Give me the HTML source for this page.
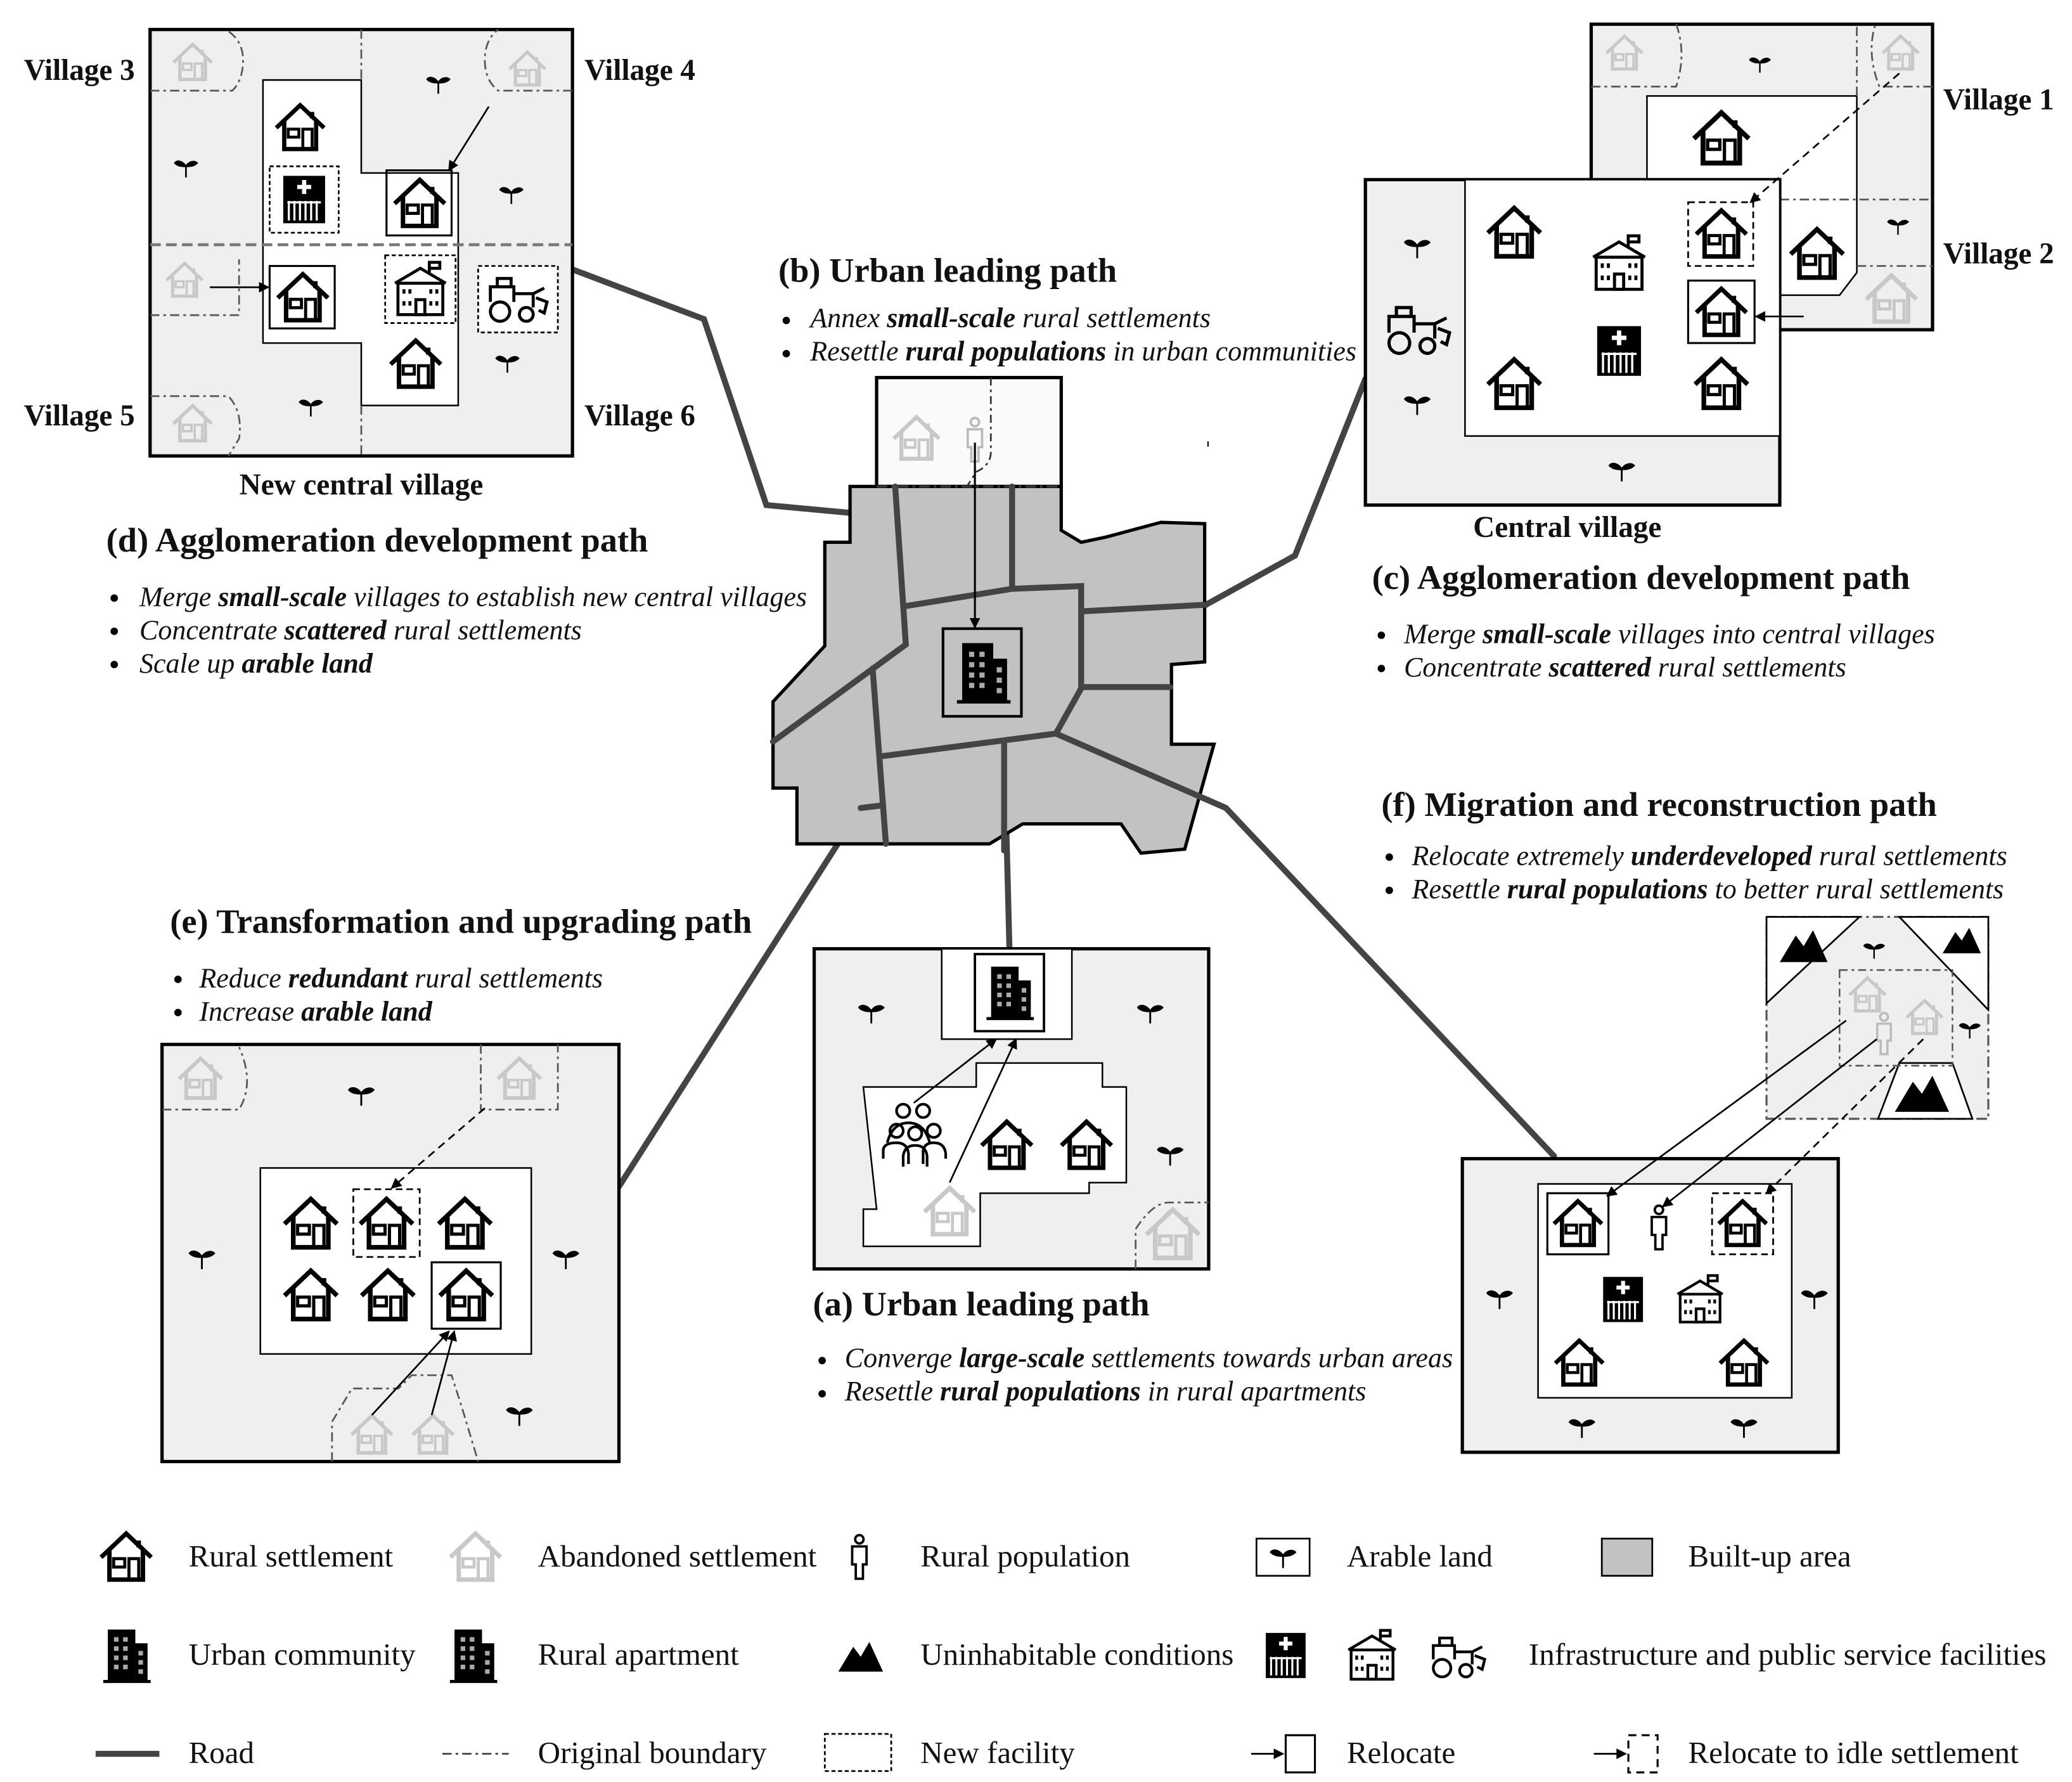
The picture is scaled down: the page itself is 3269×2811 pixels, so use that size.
<!DOCTYPE html>
<html><head><meta charset="utf-8"><style>
html,body{margin:0;padding:0;background:#fff}
svg{display:block}
text{font-family:"Liberation Serif",serif;fill:#111}
.t{font-size:26px;font-weight:bold}
.b{font-size:21px;font-style:italic}
.l{font-size:23.4px}
.v{font-size:22.5px;font-weight:bold}
</style></head><body>
<svg xmlns="http://www.w3.org/2000/svg" width="3269" height="2811" viewBox="0 0 1560 1341">
<defs>
<symbol id="h" viewBox="0 0 40 40"><g fill="none" stroke="#000" stroke-width="3.2" stroke-linejoin="miter"><path d="M2 21 L20 4 L38 21"/><path d="M29 9 V14"/><path d="M8 16 V37 H32 V16"/><rect x="11" y="22" width="8" height="6" stroke-width="2.2"/><rect x="22" y="22" width="7" height="15" stroke-width="2.2"/></g></symbol>
<symbol id="ha" viewBox="0 0 40 40"><g fill="none" stroke="#c8c8c8" stroke-width="3.2"><path d="M2 21 L20 4 L38 21"/><path d="M29 9 V14"/><path d="M8 16 V37 H32 V16"/><rect x="11" y="22" width="8" height="6" stroke-width="2.2"/><rect x="22" y="22" width="7" height="15" stroke-width="2.2"/></g></symbol>
<symbol id="bld" viewBox="0 0 40 40"><rect x="8" y="3" width="18" height="34" fill="#000"/><rect x="26" y="12" width="8" height="25" fill="#000"/><rect x="5" y="36" width="31" height="2" fill="#000"/><g fill="#aaa"><rect x="12" y="8" width="3" height="3"/><rect x="18" y="8" width="3" height="3"/><rect x="12" y="14" width="3" height="3"/><rect x="18" y="14" width="3" height="3"/><rect x="12" y="20" width="3" height="3"/><rect x="18" y="20" width="3" height="3"/><rect x="12" y="26" width="3" height="3"/><rect x="18" y="26" width="3" height="3"/><rect x="28" y="17" width="3" height="3"/><rect x="28" y="23" width="3" height="3"/><rect x="28" y="29" width="3" height="3"/></g></symbol>
<symbol id="sp" viewBox="0 0 24 24"><path d="M12 22 V12 M12 12 C8 6 3 7 2 9 C5 12 9 12 12 12 M12 12 C15 7 20 7 22 9 C19 12 15 12 12 12" fill="#000" stroke="#000" stroke-width="1.5"/></symbol>
<symbol id="pp" viewBox="0 0 20 40"><g fill="none" stroke="#000" stroke-width="2"><circle cx="10" cy="5" r="3.5"/><path d="M4 11 H16 V26 H13 V38 H7 V26 H4 Z"/></g></symbol>
<symbol id="ppa" viewBox="0 0 20 40"><g fill="none" stroke="#bbb" stroke-width="2"><circle cx="10" cy="5" r="3.5"/><path d="M4 11 H16 V26 H13 V38 H7 V26 H4 Z"/></g></symbol>
<symbol id="hos" viewBox="0 0 40 40"><rect x="5" y="3" width="30" height="34" fill="#000"/><path d="M20 6 V16 M15 11 H25" stroke="#fff" stroke-width="3"/><g stroke="#fff" stroke-width="1.5"><path d="M9 21 V35 M13 21 V35 M17 21 V35 M21 21 V35 M25 21 V35 M29 21 V35 M8 22 H32"/></g></symbol>
<symbol id="sch" viewBox="0 0 40 40"><g fill="none" stroke="#000" stroke-width="2"><path d="M3 16 L20 6 L37 16"/><rect x="5" y="16" width="30" height="21"/><path d="M26 9 V2 H33 V6 H26"/><rect x="17" y="27" width="6" height="10"/><path d="M9 20 v3 M13 20 v3 M27 20 v3 M31 20 v3 M9 28 v3 M13 28 v3 M27 28 v3 M31 28 v3"/></g></symbol>
<symbol id="tr" viewBox="0 0 50 36"><g fill="none" stroke="#000" stroke-width="2.2"><circle cx="12" cy="27" r="7"/><circle cx="31" cy="29" r="5"/><path d="M5 20 V9 H22 V20 M10 9 V3 H20 V9 M22 14 H36 V24 M36 14 L44 10 M38 17 L46 20 L44 28 L40 26"/></g></symbol>
<symbol id="mt" viewBox="0 0 40 30"><path d="M2 28 L14 8 L20 16 L27 4 L38 28 Z" fill="#000"/></symbol>
<marker id="ar" markerWidth="8" markerHeight="8" refX="7" refY="4" orient="auto" markerUnits="userSpaceOnUse"><path d="M0 0 L8 4 L0 8 Z" fill="#000"/></marker>
</defs>

<g stroke="#444" stroke-width="4.5" fill="none" stroke-linecap="round">
<path d="M432 203 L530 240 L577 380 L674 389"/>
<path d="M1028 285 L975 418 L908 455 L814 460"/>
<path d="M466 893 L648 608"/>
<path d="M756 558 L760 714"/>
<path d="M795 552 L923 608 L1170 870"/>
</g>

<rect x="660" y="284" width="139" height="82" fill="#fafafa" stroke="#000" stroke-width="2.5"/>
<polygon points="640,366 640,408 621,408 621,486 582,528 582,593 600,593 600,635 745,635 770,620 844,620 859,642 892,639 914,560 882,560 882,500 907,498 907,394 874,393 833,404 814,408 799,399 799,366" fill="#c2c2c2" stroke="#000" stroke-width="2.5"/>
<path d="M660 366 H799" stroke="#333" stroke-width="2" stroke-dasharray="8,3,2,3"/>
<path d="M746 284 V340 Q746 350 735 355 L728 366" stroke="#333" stroke-width="1.3" fill="none" stroke-dasharray="6,3,2,3"/>
<g stroke="#444" stroke-width="4.5" fill="none" stroke-linecap="round">
<path d="M674 366 L682 485 L582 558"/>
<path d="M762 366 L762 443"/>
<path d="M682 456 L762 443 L814 441 L814 518 L795 552 L664 569"/>
<path d="M814 460 L908 455"/>
<path d="M814 517 L881 517"/>
<path d="M657 503 L667 635"/>
<path d="M648 608 L665 606"/>
<path d="M756 558 L756 640"/>
<path d="M795 552 L923 608"/>
</g>
<use href="#ha" x="670" y="310" width="40" height="38"/>
<use href="#ppa" x="725" y="313" width="18" height="36"/>
<line x1="734" y1="333" x2="734" y2="472" stroke="#000" stroke-width="1.5" marker-end="url(#ar)"/>
<rect x="710" y="473" width="59" height="66" fill="none" stroke="#000" stroke-width="2"/>
<use href="#bld" x="714" y="476" width="52" height="60"/>
<rect x="909" y="332" width="1" height="4" fill="#000"/>

<rect x="113" y="22" width="318" height="321" fill="#efefef" stroke="#000" stroke-width="2.5"/>
<polygon points="198,60 272,60 272,130 345,130 345,305 272,305 272,258 198,258" fill="#fff" stroke="#000" stroke-width="1.2"/>
<g stroke="#555" stroke-width="1.3" fill="none" stroke-dasharray="7,3,2,3">
<path d="M272 22 V60 M272 305 V343"/>
<path d="M113 68 H175 Q183 60 183 45 Q183 30 170 22"/>
<path d="M431 68 H375 Q365 60 365 45 Q365 30 375 22"/>
<path d="M113 298 H172 Q183 310 180 330 L172 343"/>
<path d="M113 237 H180 V195"/>
</g>
<path d="M113 184 H431" stroke="#777" stroke-width="2.2" stroke-dasharray="8,4"/>
<use href="#ha" x="128" y="30" width="34" height="32"/>
<use href="#ha" x="381" y="36" width="32" height="30"/>
<use href="#ha" x="123" y="195" width="32" height="30"/>
<use href="#ha" x="128" y="302" width="34" height="32"/>
<use href="#h" x="205" y="75" width="42" height="40"/>
<rect x="203" y="125" width="52" height="50" fill="none" stroke="#000" stroke-width="1.3" stroke-dasharray="3,2"/>
<use href="#hos" x="208" y="128" width="42" height="44"/>
<rect x="291" y="128" width="49" height="49" fill="none" stroke="#000" stroke-width="1.5"/>
<use href="#h" x="295" y="131" width="42" height="42"/>
<rect x="203" y="200" width="49" height="47" fill="none" stroke="#000" stroke-width="1.5"/>
<use href="#h" x="207" y="202" width="42" height="42"/>
<rect x="290" y="192" width="53" height="51" fill="none" stroke="#000" stroke-width="1.3" stroke-dasharray="3,2"/>
<use href="#sch" x="294" y="195" width="45" height="45"/>
<rect x="360" y="200" width="60" height="50" fill="#fff" stroke="#000" stroke-width="1.3" stroke-dasharray="3,2"/>
<use href="#tr" x="364" y="206" width="52" height="38"/>
<use href="#h" x="291" y="252" width="44" height="42"/>
<line x1="158" y1="216" x2="202" y2="216" stroke="#000" stroke-width="1.3" marker-end="url(#ar)"/>
<line x1="368" y1="80" x2="338" y2="128" stroke="#000" stroke-width="1.3" marker-end="url(#ar)"/>
<use href="#sp" x="130" y="115" width="20" height="20"/><use href="#sp" x="320" y="52" width="20" height="20"/>
<use href="#sp" x="375" y="135" width="20" height="20"/><use href="#sp" x="372" y="262" width="20" height="20"/>
<use href="#sp" x="224" y="295" width="20" height="20"/>
<text class="v" x="18" y="60">Village 3</text><text class="v" x="440" y="60">Village 4</text>
<text class="v" x="18" y="320">Village 5</text><text class="v" x="440" y="320">Village 6</text>
<text class="v" x="272" y="372" text-anchor="middle">New central village</text>

<text class="t" x="80" y="415">(d) Agglomeration development path</text>
<circle cx="86" cy="450" r="2.8"/><circle cx="86" cy="475" r="2.8"/><circle cx="86" cy="500" r="2.8"/>
<text class="b" x="105" y="456">Merge <tspan font-weight="bold">small-scale</tspan> villages to establish  new central villages</text>
<text class="b" x="105" y="481">Concentrate <tspan font-weight="bold">scattered</tspan> rural settlements</text>
<text class="b" x="105" y="506">Scale up <tspan font-weight="bold">arable land</tspan></text>

<rect x="1198" y="18" width="257" height="230" fill="#efefef" stroke="#000" stroke-width="2.5"/>
<polygon points="1240,72 1398,72 1398,205 1385,222 1340,222 1340,135 1240,135" fill="#fff" stroke="#000" stroke-width="1.2"/>
<g stroke="#555" stroke-width="1.3" fill="none" stroke-dasharray="7,3,2,3">
<path d="M1198 65 H1262 Q1270 40 1262 18"/>
<path d="M1455 65 H1415 Q1405 40 1412 18"/>
<path d="M1398 72 V20 M1340 150 H1455 M1398 200 H1455"/>
</g>
<use href="#ha" x="1207" y="24" width="32" height="30"/>
<use href="#ha" x="1414" y="24" width="34" height="30"/>
<use href="#ha" x="1402" y="203" width="44" height="42"/>
<use href="#sp" x="1316" y="38" width="18" height="18"/><use href="#sp" x="1420" y="160" width="18" height="18"/>
<use href="#h" x="1272" y="80" width="48" height="46"/>
<use href="#h" x="1345" y="168" width="46" height="44"/>
<rect x="1028" y="135" width="312" height="245" fill="#efefef" stroke="#000" stroke-width="2.5"/>
<rect x="1103" y="135" width="237" height="193" fill="#fff" stroke="#000" stroke-width="1.2"/>
<use href="#h" x="1116" y="152" width="48" height="44"/>
<use href="#sch" x="1195" y="175" width="48" height="46"/>
<rect x="1271" y="152" width="49" height="48" fill="none" stroke="#000" stroke-width="1.3" stroke-dasharray="5,3"/>
<use href="#h" x="1275" y="154" width="42" height="42"/>
<rect x="1271" y="211" width="50" height="47" fill="none" stroke="#000" stroke-width="1.5"/>
<use href="#h" x="1275" y="213" width="42" height="42"/>
<use href="#hos" x="1196" y="242" width="46" height="44"/>
<use href="#h" x="1116" y="266" width="48" height="44"/>
<use href="#h" x="1272" y="266" width="48" height="44"/>
<use href="#tr" x="1040" y="228" width="56" height="40"/>
<use href="#sp" x="1056" y="174" width="22" height="22"/><use href="#sp" x="1056" y="292" width="22" height="22"/><use href="#sp" x="1210" y="342" width="22" height="22"/>
<line x1="1430" y1="55" x2="1318" y2="152" stroke="#000" stroke-width="1.3" stroke-dasharray="6,4" marker-end="url(#ar)"/>
<line x1="1358" y1="238" x2="1322" y2="238" stroke="#000" stroke-width="1.3" marker-end="url(#ar)"/>
<text class="v" x="1463" y="82">Village 1</text><text class="v" x="1463" y="198">Village 2</text>
<text class="v" x="1180" y="404" text-anchor="middle">Central village</text>

<text class="t" x="586" y="212">(b) Urban leading path</text>
<circle cx="592" cy="241" r="2.8"/><circle cx="592" cy="266" r="2.8"/>
<text class="b" x="610" y="246">Annex <tspan font-weight="bold">small-scale</tspan> rural settlements</text>
<text class="b" x="610" y="271">Resettle <tspan font-weight="bold">rural populations</tspan> in urban communities</text>

<text class="t" x="1033" y="443">(c) Agglomeration development path</text>
<circle cx="1040" cy="478" r="2.8"/><circle cx="1040" cy="503" r="2.8"/>
<text class="b" x="1057" y="484">Merge <tspan font-weight="bold">small-scale</tspan> villages into central villages</text>
<text class="b" x="1057" y="509">Concentrate <tspan font-weight="bold">scattered</tspan> rural settlements</text>

<text class="t" x="1040" y="614">(f) Migration and reconstruction path</text>
<circle cx="1046" cy="645" r="2.8"/><circle cx="1046" cy="670" r="2.8"/>
<text class="b" x="1063" y="651">Relocate extremely <tspan font-weight="bold">underdeveloped</tspan> rural settlements</text>
<text class="b" x="1063" y="676">Resettle  <tspan font-weight="bold">rural populations</tspan> to better rural settlements</text>

<text class="t" x="128" y="702">(e) Transformation and upgrading path</text>
<circle cx="134" cy="737" r="2.8"/><circle cx="134" cy="762" r="2.8"/>
<text class="b" x="150" y="743">Reduce <tspan font-weight="bold">redundant</tspan> rural settlements</text>
<text class="b" x="150" y="768">Increase <tspan font-weight="bold">arable land</tspan></text>

<rect x="122" y="786" width="344" height="314" fill="#efefef" stroke="#000" stroke-width="2.5"/>
<rect x="196" y="879" width="204" height="140" fill="#fff" stroke="#000" stroke-width="1.2"/>
<g stroke="#555" stroke-width="1.3" fill="none" stroke-dasharray="7,3,2,3">
<path d="M122 835 H180 Q192 815 180 788"/>
<path d="M362 786 V835 H420 V786"/>
<path d="M250 1100 V1070 L265 1045 L300 1045 L310 1035 L340 1035 L348 1060 L360 1100"/>
</g>
<use href="#ha" x="132" y="793" width="38" height="36"/>
<use href="#ha" x="372" y="793" width="38" height="36"/>
<use href="#ha" x="262" y="1062" width="36" height="34"/>
<use href="#ha" x="308" y="1062" width="36" height="34"/>
<use href="#h" x="211" y="898" width="46" height="44"/>
<rect x="266" y="895" width="50" height="51" fill="none" stroke="#000" stroke-width="1.3" stroke-dasharray="5,3"/>
<use href="#h" x="269" y="898" width="44" height="44"/>
<use href="#h" x="327" y="898" width="46" height="44"/>
<use href="#h" x="211" y="952" width="46" height="44"/>
<use href="#h" x="269" y="952" width="46" height="44"/>
<rect x="325" y="950" width="52" height="50" fill="none" stroke="#000" stroke-width="1.5"/>
<use href="#h" x="329" y="952" width="44" height="44"/>
<line x1="365" y1="834" x2="295" y2="894" stroke="#000" stroke-width="1.3" stroke-dasharray="6,4" marker-end="url(#ar)"/>
<line x1="280" y1="1065" x2="338" y2="1002" stroke="#000" stroke-width="1.3" marker-end="url(#ar)"/>
<line x1="325" y1="1065" x2="342" y2="1002" stroke="#000" stroke-width="1.3" marker-end="url(#ar)"/>
<use href="#sp" x="261" y="812" width="22" height="22"/><use href="#sp" x="141" y="935" width="22" height="22"/>
<use href="#sp" x="415" y="935" width="22" height="22"/><use href="#sp" x="380" y="1053" width="22" height="22"/>

<rect x="613" y="714" width="297" height="241" fill="#efefef" stroke="#000" stroke-width="2.5"/>
<rect x="709" y="714" width="98" height="68" fill="#fff" stroke="#000" stroke-width="1.2"/>
<polygon points="650,818 735,818 735,800 830,800 830,818 848,818 848,890 820,890 820,898 738,898 738,938 650,938 650,910 660,910" fill="#fff" stroke="#000" stroke-width="1.2"/>
<rect x="734" y="718" width="52" height="58" fill="none" stroke="#000" stroke-width="1.8"/>
<use href="#bld" x="737" y="721" width="46" height="52"/>
<g fill="none" stroke="#000" stroke-width="2"><circle cx="680" cy="836" r="5"/><circle cx="695" cy="836" r="5"/><path d="M668 860 Q672 845 684 845 Q696 845 700 860"/><circle cx="675" cy="851" r="5"/><circle cx="703" cy="851" r="5"/><circle cx="689" cy="853" r="5"/><path d="M665 872 V865 Q666 860 675 860 Q683 860 684 868 V876 M695 876 V866 Q696 860 703 860 Q711 860 712 868 V872 M680 878 V870 Q681 862 689 862 Q697 862 698 870 V878"/></g>
<use href="#h" x="735" y="840" width="46" height="42"/>
<use href="#h" x="795" y="840" width="46" height="42"/>
<use href="#ha" x="692" y="890" width="46" height="42"/>
<use href="#ha" x="860" y="906" width="46" height="44"/>
<path d="M855 955 V925 Q868 905 880 905 L910 905" stroke="#555" stroke-width="1.3" fill="none" stroke-dasharray="7,3,2,3"/>
<line x1="688" y1="830" x2="750" y2="782" stroke="#000" stroke-width="1.3" marker-end="url(#ar)"/>
<line x1="715" y1="890" x2="765" y2="782" stroke="#000" stroke-width="1.3" marker-end="url(#ar)"/>
<use href="#sp" x="645" y="750" width="22" height="22"/><use href="#sp" x="855" y="750" width="22" height="22"/><use href="#sp" x="870" y="857" width="22" height="22"/>

<text class="t" x="612" y="990">(a) Urban leading path</text>
<circle cx="619" cy="1024" r="2.8"/><circle cx="619" cy="1049" r="2.8"/>
<text class="b" x="636" y="1029">Converge <tspan font-weight="bold">large-scale</tspan> settlements towards urban areas</text>
<text class="b" x="636" y="1054">Resettle <tspan font-weight="bold">rural populations</tspan> in rural apartments</text>

<rect x="1330" y="690" width="167" height="152" fill="#efefef" stroke="#555" stroke-width="1.5" stroke-dasharray="8,3,2,3"/>
<polygon points="1330,690 1400,690 1330,755" fill="#fff" stroke="#000" stroke-width="1.3"/>
<polygon points="1430,690 1497,690 1497,760" fill="#fff" stroke="#000" stroke-width="1.3"/>
<polygon points="1430,800 1470,800 1485,842 1414,842" fill="#fff" stroke="#000" stroke-width="1.3"/>
<rect x="1385" y="730" width="85" height="72" fill="none" stroke="#555" stroke-width="1.2" stroke-dasharray="6,3,2,3"/>
<use href="#mt" x="1337" y="696" width="42" height="30"/>
<use href="#mt" x="1460" y="695" width="34" height="24"/>
<use href="#mt" x="1422" y="805" width="50" height="34"/>
<use href="#ha" x="1390" y="733" width="32" height="30"/>
<use href="#ha" x="1434" y="750" width="30" height="30"/>
<use href="#ppa" x="1410" y="760" width="17" height="36"/>
<use href="#sp" x="1402" y="705" width="18" height="18"/><use href="#sp" x="1474" y="765" width="18" height="18"/>
<rect x="1101" y="872" width="283" height="221" fill="#efefef" stroke="#000" stroke-width="2.5"/>
<rect x="1158" y="891" width="191" height="161" fill="#fff" stroke="#000" stroke-width="1.2"/>
<rect x="1165" y="898" width="46" height="46" fill="none" stroke="#000" stroke-width="1.5"/>
<use href="#h" x="1168" y="900" width="40" height="40"/>
<use href="#pp" x="1240" y="906" width="18" height="36"/>
<rect x="1289" y="898" width="46" height="46" fill="none" stroke="#000" stroke-width="1.3" stroke-dasharray="5,3"/>
<use href="#h" x="1292" y="900" width="40" height="40"/>
<use href="#hos" x="1202" y="958" width="40" height="40"/>
<use href="#sch" x="1259" y="958" width="42" height="40"/>
<use href="#h" x="1168" y="1005" width="42" height="40"/>
<use href="#h" x="1292" y="1005" width="42" height="40"/>
<line x1="1390" y1="768" x2="1210" y2="900" stroke="#000" stroke-width="1.3" marker-end="url(#ar)"/>
<line x1="1413" y1="782" x2="1252" y2="908" stroke="#000" stroke-width="1.3" marker-end="url(#ar)"/>
<line x1="1448" y1="782" x2="1330" y2="898" stroke="#000" stroke-width="1.3" stroke-dasharray="6,4" marker-end="url(#ar)"/>
<use href="#sp" x="1118" y="965" width="22" height="22"/><use href="#sp" x="1355" y="965" width="22" height="22"/>
<use href="#sp" x="1180" y="1062" width="22" height="22"/><use href="#sp" x="1302" y="1062" width="22" height="22"/>

<use href="#h" x="72" y="1150" width="46" height="42"/>
<text class="l" x="142" y="1179">Rural settlement</text>
<use href="#ha" x="335" y="1150" width="46" height="42"/>
<text class="l" x="405" y="1179">Abandoned settlement</text>
<use href="#pp" x="638" y="1153" width="18" height="38"/>
<text class="l" x="693" y="1179">Rural population</text>
<rect x="946" y="1158" width="40" height="28" fill="#fff" stroke="#000" stroke-width="1.3"/>
<use href="#sp" x="955" y="1160" width="22" height="22"/>
<text class="l" x="1014" y="1179">Arable land</text>
<rect x="1206" y="1158" width="38" height="28" fill="#c2c2c2" stroke="#000" stroke-width="1.3"/>
<text class="l" x="1271" y="1179">Built-up area</text>

<use href="#bld" x="72" y="1223" width="46" height="46"/>
<text class="l" x="142" y="1253">Urban community</text>
<use href="#bld" x="333" y="1223" width="46" height="46"/>
<text class="l" x="405" y="1253">Rural apartment</text>
<use href="#mt" x="628" y="1232" width="40" height="28"/>
<text class="l" x="693" y="1253">Uninhabitable conditions</text>
<use href="#hos" x="948" y="1225" width="40" height="42"/>
<use href="#sch" x="1012" y="1225" width="42" height="42"/>
<use href="#tr" x="1073" y="1230" width="50" height="34"/>
<text class="l" x="1151" y="1253">Infrastructure and public service facilities</text>

<line x1="72" y1="1320" x2="120" y2="1320" stroke="#444" stroke-width="4.5"/>
<text class="l" x="142" y="1327">Road</text>
<line x1="333" y1="1320" x2="383" y2="1320" stroke="#444" stroke-width="1.3" stroke-dasharray="7,3,2,3"/>
<text class="l" x="405" y="1327">Original boundary</text>
<rect x="621" y="1305" width="50" height="28" fill="none" stroke="#000" stroke-width="1.3" stroke-dasharray="3,2"/>
<text class="l" x="693" y="1327">New facility</text>
<line x1="942" y1="1320" x2="966" y2="1320" stroke="#000" stroke-width="1.3" marker-end="url(#ar)"/>
<rect x="968" y="1306" width="22" height="28" fill="none" stroke="#000" stroke-width="1.5"/>
<text class="l" x="1014" y="1327">Relocate</text>
<line x1="1200" y1="1320" x2="1224" y2="1320" stroke="#000" stroke-width="1.3" marker-end="url(#ar)"/>
<rect x="1226" y="1306" width="22" height="28" fill="none" stroke="#000" stroke-width="1.5" stroke-dasharray="6,4"/>
<text class="l" x="1271" y="1327">Relocate to idle settlement</text>
</svg>
</body></html>
